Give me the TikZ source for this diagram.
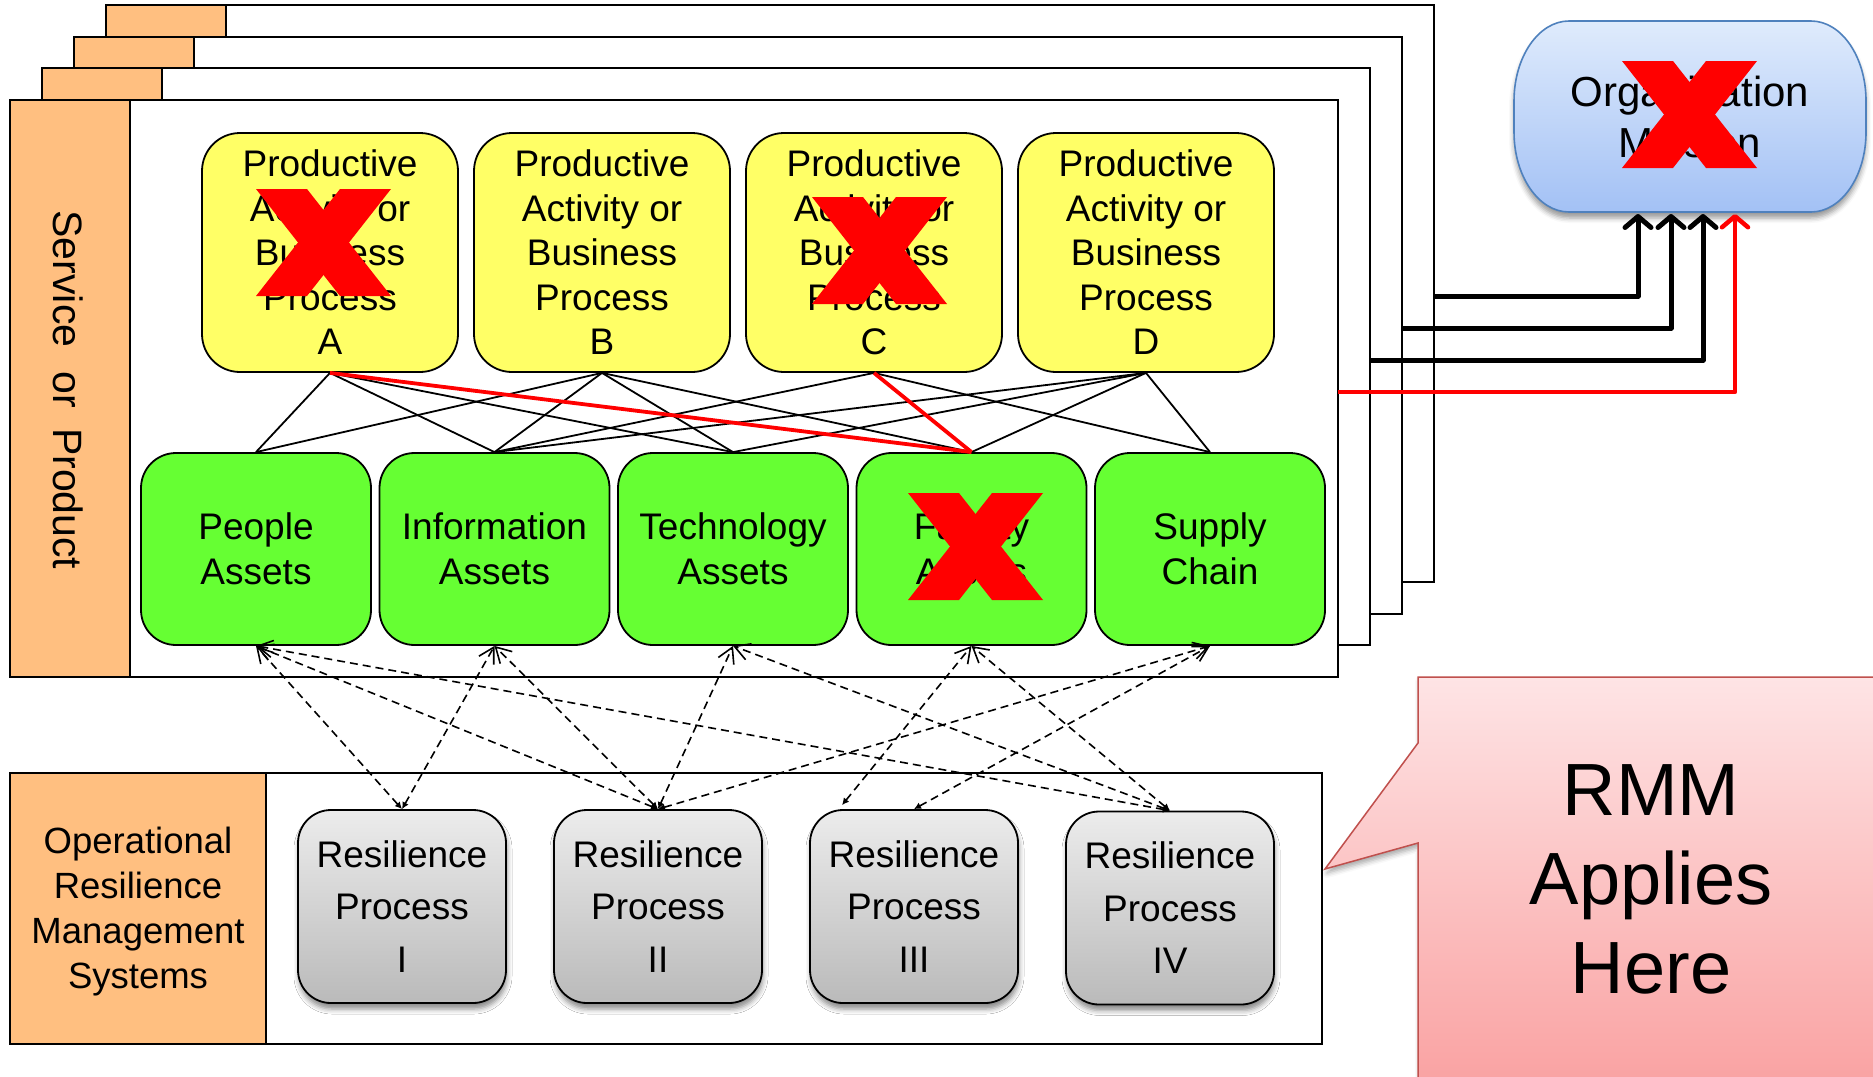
\documentclass[tikz,border=0pt]{standalone}
\usepackage{fontspec}
\setmainfont{Liberation Sans}
\usetikzlibrary{arrows.meta,shadows.blur,calc}

\definecolor{orangeT}{RGB}{255,191,128}
\definecolor{yel}{RGB}{255,255,102}
\definecolor{grn}{RGB}{102,255,51}
\definecolor{grayTop}{RGB}{236,236,236}
\definecolor{grayBot}{RGB}{186,186,186}
\definecolor{orgTop}{RGB}{223,235,252}
\definecolor{orgBot}{RGB}{163,193,245}
\definecolor{orgLine}{RGB}{79,129,189}
\definecolor{pinkTop}{RGB}{254,228,229}
\definecolor{pinkBot}{RGB}{249,158,158}
\definecolor{pinkLine}{RGB}{192,80,77}
\definecolor{xred}{RGB}{255,0,0}

\newcommand{\RedCross}[2]{%
  \fill[xred] (#1,#2) -- ++(51,0) -- ++(84,107) -- ++(-51,0) -- cycle;
  \fill[xred] (#1+135,#2) -- ++(-51,0) -- ++(-84,107) -- ++(51,0) -- cycle;
}

\begin{document}
\begin{tikzpicture}[x=1pt,y=-1pt,
  ybox/.style={draw=black, line width=1.8pt, fill=yel, rounded corners=38pt,
    minimum width=256pt, minimum height=239pt, align=center, inner sep=0pt,
    font=\fontsize{37}{44.5}\selectfont},
  gbox/.style={draw=black, line width=1.8pt, fill=grn, rounded corners=35pt,
    minimum width=230pt, minimum height=192pt, align=center, inner sep=0pt,
    font=\fontsize{37}{44.5}\selectfont},
  rbox/.style={draw=black, line width=1.8pt, top color=grayTop, bottom color=grayBot,
    rounded corners=33pt, minimum width=208pt, minimum height=193pt, align=center,
    inner sep=0pt, font=\fontsize{37}{52.5}\selectfont,
    blur shadow={shadow xshift=1pt, shadow yshift=-6pt, shadow blur radius=5pt, shadow opacity=45}},
  frame/.style={fill=white, draw=black, line width=2pt},
  strip/.style={fill=orangeT, draw=black, line width=2pt},
  link/.style={line width=1.8pt, draw=black},
  redlink/.style={line width=3.8pt, draw=xred},
  dep/.style={line width=1.6pt, draw=black, dash pattern=on 8pt off 5pt,
    {Latex[length=7pt,width=7pt]}-{Straight Barb[length=15pt,width=17pt]}},
  feed/.style={line width=5pt, line join=round, -{Straight Barb[length=11pt,width=26pt,round]}},
]
\useasboundingbox (0,0) rectangle (1873,1076);
\clip (0,0) rectangle (1873,1076);

% stacked service layers (back to front)
\foreach \k in {3,2,1,0} {
  \pgfmathsetmacro\lx{10+32*\k}
  \pgfmathsetmacro\ly{100-31.7*\k}
  \path[frame] (\lx,\ly) rectangle (\lx+1327.5,\ly+577);
  \path[strip] (\lx,\ly) rectangle (\lx+120,\ly+577);
}
\node[rotate=-90, font=\fontsize{41}{49}\selectfont] (svc) at (68,390)
  {Service\hspace{0.59em}or\hspace{0.49em}Product};

% lower system frame
\path[frame] (10,773) rectangle (1322,1044);
\path[strip] (10,773) rectangle (266,1044);
\node[align=center, font=\fontsize{36.5}{45}\selectfont] (orms) at (138,912)
  {Operational\\Resilience\\Management\\Systems};

% productive activities
\node[ybox] (A) at (330,252.5) {Productive\\Activity or\\Business\\Process\\A};
\node[ybox] (B) at (602,252.5) {Productive\\Activity or\\Business\\Process\\B};
\node[ybox] (C) at (874,252.5) {Productive\\Activity or\\Business\\Process\\C};
\node[ybox] (D) at (1146,252.5) {Productive\\Activity or\\Business\\Process\\D};

% assets
\node[gbox] (P) at (256,549) {People\\Assets};
\node[gbox] (I) at (494.5,549) {Information\\Assets};
\node[gbox] (T) at (733,549) {Technology\\Assets};
\node[gbox] (F) at (971.5,549) {Facility\\Assets};
\node[gbox] (S) at (1210,549) {Supply\\Chain};

% resilience processes
\node[rbox] (R1) at (402,906.5) {Resilience\\Process\\I};
\node[rbox] (R2) at (658,906.5) {Resilience\\Process\\II};
\node[rbox] (R3) at (914,906.5) {Resilience\\Process\\III};
\node[rbox] (R4) at (1170,908) {Resilience\\Process\\IV};

% activity -> asset links
\draw[link] (A.south) -- (P.north);
\draw[link] (A.south) -- (I.north);
\draw[link] (A.south) -- (T.north);
\draw[link] (B.south) -- (P.north);
\draw[link] (B.south) -- (I.north);
\draw[link] (B.south) -- (T.north);
\draw[link] (B.south) -- (F.north);
\draw[link] (C.south) -- (I.north);
\draw[link] (C.south) -- (S.north);
\draw[link] (D.south) -- (I.north);
\draw[link] (D.south) -- (T.north);
\draw[link] (D.south) -- (F.north);
\draw[link] (D.south) -- (S.north);
\draw[redlink] (A.south) -- (F.north);
\draw[redlink] (C.south) -- (F.north);

% resilience process -> asset dashed links
\coordinate (R3L) at ($(R3.north)+(-72,-4)$);
\draw[dep] (R1.north) -- (P.south);
\draw[dep] (R2.north) -- (P.south);
\draw[dep] (R4.north) -- (P.south);
\draw[dep] (R1.north) -- (I.south);
\draw[dep] (R2.north) -- (I.south);
\draw[dep] (R2.north) -- (T.south);
\draw[dep] (R4.north) -- (T.south);
\draw[dep] (R3L) -- (F.south);
\draw[dep] (R4.north) -- (F.south);
\draw[dep] (R2.north) -- (S.south);
\draw[dep] (R3.north) -- (S.south);

% organization mission
\shadedraw[top color=orgTop, bottom color=orgBot, draw=orgLine, line width=1.6pt,
  blur shadow={shadow xshift=0pt, shadow yshift=-6pt, shadow blur radius=5pt, shadow opacity=40}]
  (1569,21) -- (1811,21) .. controls (1841.4,21) and (1866,56.8) .. (1866,101)
  -- (1866,132) .. controls (1866,176.2) and (1841.4,212) .. (1811,212)
  -- (1569,212) .. controls (1538.6,212) and (1514,176.2) .. (1514,132)
  -- (1514,101) .. controls (1514,56.8) and (1538.6,21) .. (1569,21) -- cycle;
\node[align=center, font=\fontsize{42}{51}\selectfont] (org) at (1690,117) {Organization\\Mission};

% feeds from service layers to mission
\coordinate (e3) at (1433.5,296);
\coordinate (e2) at (1401.5,328);
\coordinate (e1) at (1369.5,360);
\coordinate (e0) at (1337.5,392);
\coordinate (m3) at (1638,214);
\coordinate (m2) at (1671,214);
\coordinate (m1) at (1703,214);
\coordinate (m0) at (1735,214);
\draw[feed] (e3) -| (m3);
\draw[feed] (e2) -| (m2);
\draw[feed] (e1) -| (m1);
\draw[feed, draw=xred, color=xred, line width=4.5pt] (e0) -| (m0);

% red crosses
\RedCross{256}{189}
\RedCross{812}{197}
\RedCross{908}{493}
\RedCross{1622}{61}

% callout
\shadedraw[top color=pinkTop, bottom color=pinkBot, draw=pinkLine, line width=1.5pt,
  blur shadow={shadow xshift=2pt, shadow yshift=-4pt, shadow blur radius=5pt, shadow opacity=35}]
  (1418,677) -- (1910,677) -- (1910,1110) -- (1418,1110) -- (1418,843)
  -- (1325,869) -- (1418,743) -- cycle;
\node[align=center, font=\fontsize{74}{89}\selectfont] (rmm) at (1651,879) {RMM\\Applies\\Here};
\end{tikzpicture}
\end{document}
